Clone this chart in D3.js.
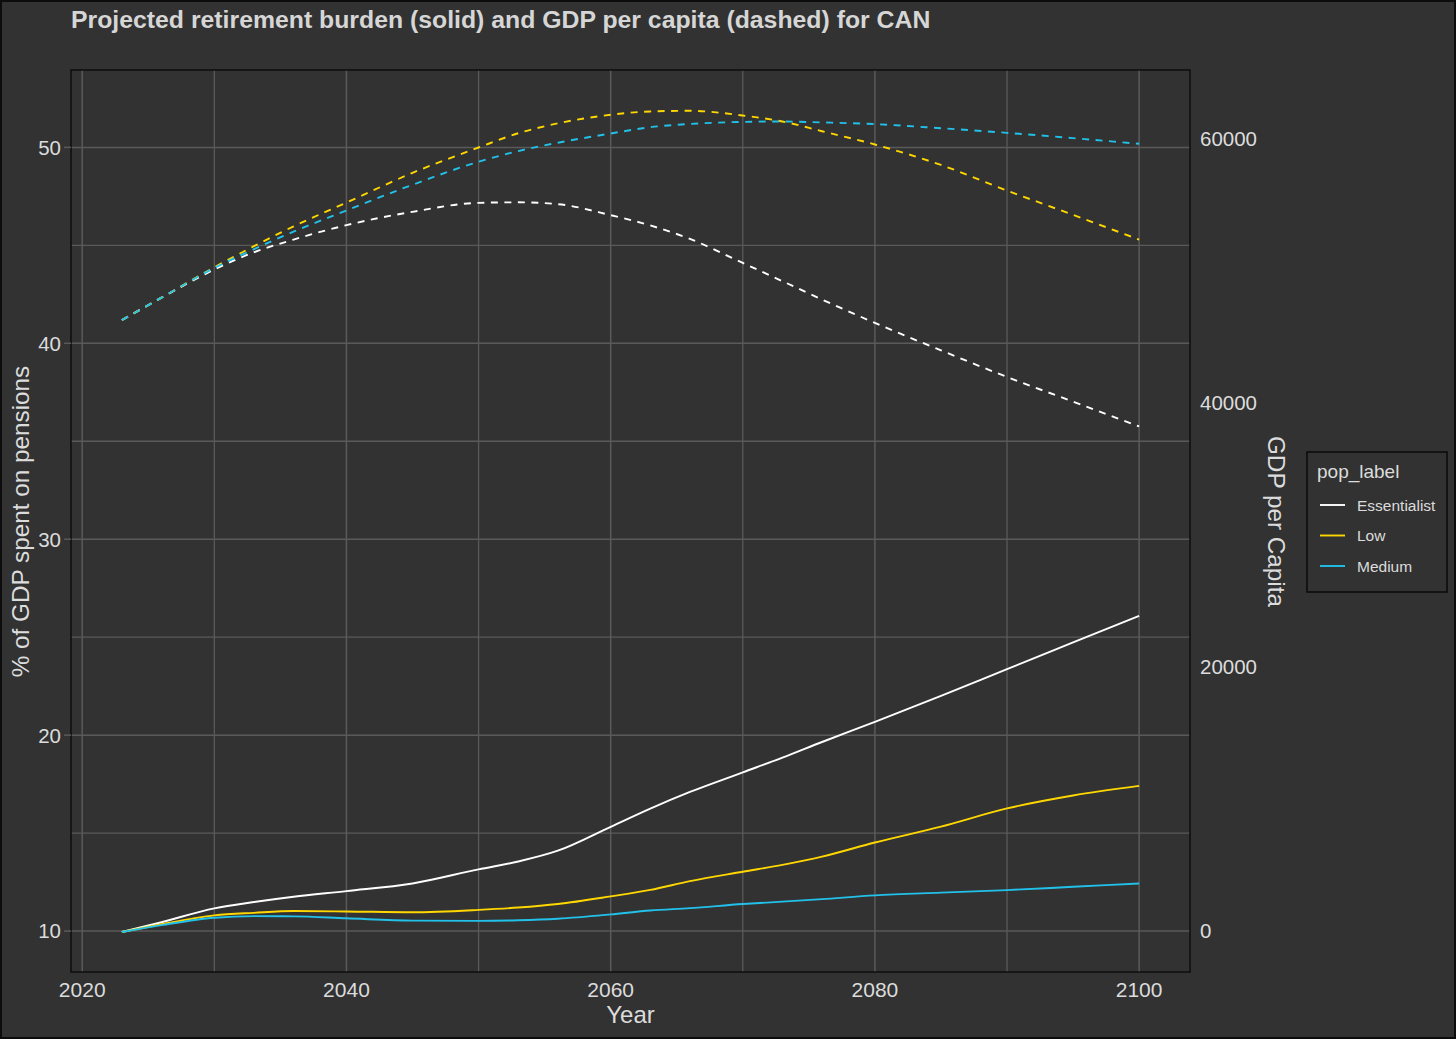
<!DOCTYPE html>
<html>
<head>
<meta charset="utf-8">
<script src="https://cdn.jsdelivr.net/npm/d3@7"></script>
<style>
  html, body { margin: 0; padding: 0; background: #323232; }
  svg { display: block; }
  text { font-family: "Liberation Sans", Arial, Helvetica, sans-serif; }
</style>
</head>
<body>
<svg id="chart" width="1456" height="1039"></svg>
<script>
// ---- Data ----
const years = [2023, 2026, 2030, 2033, 2036, 2040, 2045, 2050, 2053, 2056, 2060, 2063, 2066, 2070, 2073, 2076, 2080, 2085, 2090, 2095, 2100];
const categories = ["Essentialist", "Low", "Medium"];

const pensionEssentialist = [9.95, 10.45, 11.16, 11.48, 11.75, 12.04, 12.43, 13.15, 13.55, 14.1, 15.32, 16.25, 17.1, 18.1, 18.85, 19.65, 20.68, 22.0, 23.37, 24.73, 26.09];
const pensionLow          = [9.95, 10.35, 10.8, 10.93, 11.02, 11.0, 10.96, 11.08, 11.2, 11.38, 11.77, 12.1, 12.55, 13.03, 13.38, 13.8, 14.52, 15.33, 16.26, 16.92, 17.41];
const pensionMedium       = [9.95, 10.3, 10.68, 10.76, 10.75, 10.65, 10.53, 10.52, 10.55, 10.63, 10.85, 11.05, 11.17, 11.38, 11.5, 11.63, 11.82, 11.96, 12.09, 12.26, 12.43];

const gdpEssentialist = [46250, 47950, 50080, 51390, 52350, 53440, 54450, 55130, 55170, 55030, 54200, 53420, 52400, 50580, 49200, 47810, 46040, 43960, 41950, 40080, 38200];
const gdpLow          = [46250, 47950, 50250, 51850, 53350, 55150, 57400, 59320, 60400, 61150, 61800, 62050, 62100, 61740, 61290, 60550, 59550, 58000, 56060, 54220, 52350];
const gdpMedium       = [46250, 47950, 50200, 51620, 52950, 54550, 56500, 58240, 59050, 59680, 60380, 60860, 61100, 61260, 61290, 61220, 61090, 60780, 60430, 60030, 59600];

const xTicks = [2020, 2040, 2060, 2080, 2100];
const xMinor = [2030, 2050, 2070, 2090];
const yLeftTicks = [10, 20, 30, 40, 50];
const yLeftMinor = [15, 25, 35, 45];
const yRightTicks = [0, 20000, 40000, 60000];

const colors = { Essentialist: "#ffffff", Low: "#ffd700", Medium: "#22c1ea" };

const titleText = "Projected retirement burden (solid) and GDP per capita (dashed) for CAN";

// ---- Layout ----
const W = 1456, H = 1039;
const panel = { left: 71, right: 1190, top: 70, bottom: 972 };
const bg = "#323232";
const gridColor = "#5a5a5a";
const textColor = "#dcdcdc";

const svg = d3.select("#chart");

svg.append("rect").attr("x", 1).attr("y", 1).attr("width", W - 2).attr("height", H - 2)
  .attr("fill", bg).attr("stroke", "#0c0c0c").attr("stroke-width", 2);

const x = d3.scaleLinear().domain([2019.15, 2103.85]).range([panel.left, panel.right]);
const yL = d3.scaleLinear().domain([7.91, 53.95]).range([panel.bottom, panel.top]);
const yR = d3.scaleLinear().domain([-3104, 65188]).range([panel.bottom, panel.top]);

// Grid
const grid = svg.append("g");
grid.selectAll(".hmin").data(yLeftMinor).join("line")
  .attr("x1", panel.left).attr("x2", panel.right)
  .attr("y1", d => yL(d)).attr("y2", d => yL(d))
  .attr("stroke", gridColor).attr("stroke-width", 1.3);
grid.selectAll(".vmin").data(xMinor).join("line")
  .attr("y1", panel.top).attr("y2", panel.bottom)
  .attr("x1", d => x(d)).attr("x2", d => x(d))
  .attr("stroke", gridColor).attr("stroke-width", 1.3);
grid.selectAll(".hmaj").data(yLeftTicks).join("line")
  .attr("x1", panel.left).attr("x2", panel.right)
  .attr("y1", d => yL(d)).attr("y2", d => yL(d))
  .attr("stroke", gridColor).attr("stroke-width", 1.5);
grid.selectAll(".vmaj").data(xTicks).join("line")
  .attr("y1", panel.top).attr("y2", panel.bottom)
  .attr("x1", d => x(d)).attr("x2", d => x(d))
  .attr("stroke", gridColor).attr("stroke-width", 1.5);

// Lines
const lineL = d3.line().x(d => x(d.year)).y(d => yL(d.v)).curve(d3.curveMonotoneX);
const lineR = d3.line().x(d => x(d.year)).y(d => yR(d.v)).curve(d3.curveMonotoneX);

const pension = { Essentialist: pensionEssentialist, Low: pensionLow, Medium: pensionMedium };
const gdp = { Essentialist: gdpEssentialist, Low: gdpLow, Medium: gdpMedium };

const marks = svg.append("g");
categories.forEach(c => {
  const pd = years.map((yr, i) => ({ year: yr, v: pension[c][i] }));
  const gd = years.map((yr, i) => ({ year: yr, v: gdp[c][i] }));
  marks.append("path").attr("d", lineR(gd)).attr("fill", "none")
    .attr("stroke", colors[c]).attr("stroke-width", 1.9)
    .attr("stroke-dasharray", "7,6.5");
  marks.append("path").attr("d", lineL(pd)).attr("fill", "none")
    .attr("stroke", colors[c]).attr("stroke-width", 1.9);
});

// Panel border
svg.append("rect").attr("x", panel.left).attr("y", panel.top)
  .attr("width", panel.right - panel.left).attr("height", panel.bottom - panel.top)
  .attr("fill", "none").attr("stroke", "#0a0a0a").attr("stroke-width", 1.4);

// Left axis ticks + labels
const axL = svg.append("g");
axL.selectAll("line").data(yLeftTicks).join("line")
  .attr("x1", panel.left - 7).attr("x2", panel.left)
  .attr("y1", d => yL(d)).attr("y2", d => yL(d))
  .attr("stroke", gridColor).attr("stroke-width", 1.5);
axL.selectAll("text").data(yLeftTicks).join("text")
  .attr("x", 61).attr("y", d => yL(d)).attr("dy", "0.36em")
  .attr("text-anchor", "end").attr("fill", textColor).attr("font-size", 20.5)
  .text(d => d);

// Right axis labels
const axR = svg.append("g");
axR.selectAll("text").data(yRightTicks).join("text")
  .attr("x", 1200).attr("y", d => yR(d)).attr("dy", "0.36em")
  .attr("text-anchor", "start").attr("fill", textColor).attr("font-size", 20.5)
  .text(d => d);

// Bottom axis labels
const axB = svg.append("g");
axB.selectAll("text").data(xTicks).join("text")
  .attr("x", d => x(d)).attr("y", 997)
  .attr("text-anchor", "middle").attr("fill", textColor).attr("font-size", 21)
  .text(d => d);

// Axis titles
svg.append("text").attr("x", (panel.left + panel.right) / 2).attr("y", 1023)
  .attr("text-anchor", "middle").attr("fill", textColor).attr("font-size", 24)
  .text("Year");
svg.append("text").attr("transform", "translate(29,521.5) rotate(-90)")
  .attr("text-anchor", "middle").attr("fill", textColor).attr("font-size", 24.3)
  .text("% of GDP spent on pensions");
svg.append("text").attr("transform", "translate(1268,521.5) rotate(90)")
  .attr("text-anchor", "middle").attr("fill", textColor).attr("font-size", 24.3)
  .text("GDP per Capita");

// Title
svg.append("text").attr("x", 71).attr("y", 28)
  .attr("fill", "#d6d6d6").attr("font-size", 24.8).attr("font-weight", "bold")
  .text(titleText);

// Legend
const lg = svg.append("g");
lg.append("rect").attr("x", 1307).attr("y", 452).attr("width", 140).attr("height", 140)
  .attr("fill", bg).attr("stroke", "#0a0a0a").attr("stroke-width", 1.5);
lg.append("text").attr("x", 1317).attr("y", 478).attr("fill", textColor)
  .attr("font-size", 19).text("pop_label");
const keyY = d3.scalePoint().domain(categories).range([505, 566]);
categories.forEach(c => {
  lg.append("line").attr("x1", 1320).attr("x2", 1345)
    .attr("y1", keyY(c)).attr("y2", keyY(c))
    .attr("stroke", colors[c]).attr("stroke-width", 1.9);
  lg.append("text").attr("x", 1357).attr("y", keyY(c)).attr("dy", "0.36em")
    .attr("fill", textColor).attr("font-size", 15.5).text(c);
});
</script>
</body>
</html>
